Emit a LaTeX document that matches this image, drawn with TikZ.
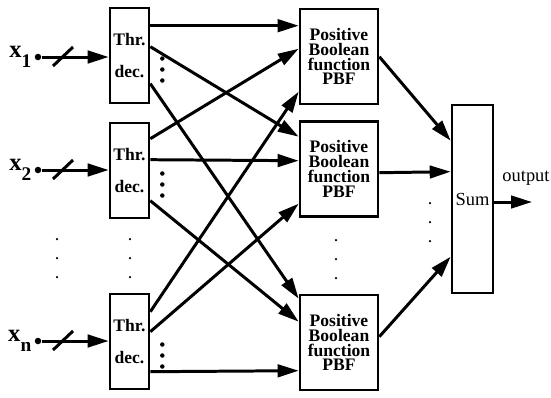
\documentclass[tikz,border=0pt]{standalone}
\usepackage{fontspec}
\setmainfont{Liberation Serif}
\usepackage{tikz}
\usetikzlibrary{arrows.meta, positioning, calc}
\tikzset{
  thrbox/.style={rectangle, draw, line width=1.5pt,
    minimum width=0.78cm, minimum height=1.9cm, inner sep=0pt,
    align=center, font=\fontsize{10}{18}\selectfont\bfseries},
  pbfbox/.style={rectangle, draw, line width=1.5pt,
    minimum width=1.56cm, minimum height=1.9cm, inner sep=0pt,
    align=center, font=\fontsize{10}{8.5}\selectfont\bfseries},
  sumbox/.style={rectangle, draw, line width=1.5pt,
    minimum width=0.82cm, minimum height=3.76cm, inner sep=0pt,
    font=\fontsize{10.5}{12}\selectfont},
  indot/.style={circle, fill, inner sep=0pt, minimum size=0.13cm},
  smalldot/.style={circle, fill, inner sep=0pt, minimum size=0.05cm},
  bigdot/.style={circle, fill, inner sep=0pt, minimum size=0.09cm},
  inlabel/.style={font=\fontsize{14}{14}\selectfont\bfseries, inner sep=1pt},
  arrow/.style={-{Triangle[length=0.42cm,width=0.25cm]}, line width=1.7pt},
  line/.style={line width=1.7pt}
}

\begin{document}
\begin{tikzpicture}[x=0.02cm, y=-0.02cm]
  \useasboundingbox (0,0) rectangle (551,397);

  % threshold decoders
  \node[thrbox] (thr1) at (129.5,55.5) {Thr.\\dec.};
  \node[thrbox] (thr2) at (129.5,170.5) {Thr.\\dec.};
  \node[thrbox] (thr3) at (129.5,341.5) {Thr.\\dec.};

  % positive boolean functions
  \node[pbfbox] (pbf1) at (339,56.5) {Positive\\Boolean\\function\\PBF};
  \node[pbfbox] (pbf2) at (339,169) {Positive\\Boolean\\function\\PBF};
  \node[pbfbox] (pbf3) at (339,342.5) {Positive\\Boolean\\function\\PBF};

  \node[sumbox] (sum) at (472.5,199) {Sum};

  % inputs
  \foreach \i/\y/\s in {1/57/1, 2/170/2, 3/341/n} {
    \node[indot] (in\i) at (38,\y) {};
    \node[inlabel, anchor=east] (lab\i) at ($(in\i.west)+(-1,0)$) {x\raisebox{-0.9ex}{\fontsize{11}{12}\selectfont\s}};
    \draw[arrow] (in\i) -- (in\i -| thr\i.west);
    \draw[line] ($(in\i)+(15,9)$) -- ++(20,-19);
    \foreach \d/\o in {a/3, b/14, c/25}
      \node[bigdot] (dot\i\d) at ($(thr\i.east)+(12,\o)$) {};
  }

  % decoders to PBFs
  \foreach \a/\ya/\b/\yb in {1/19/1/18, 1/40/2/16.5, 1/77/3/5,
                             2/17/1/41, 2/38/2/40.5, 2/79/3/28,
                             3/19/1/84, 3/39/2/83.5, 3/79/3/77}
    \draw[arrow] ($(thr\a.north east)+(0,\ya)$) -- ($(pbf\b.north west)+(0,\yb)$);

  % PBFs to sum
  \draw[arrow] ($(pbf1.north east)+(0,49)$) -- ($(sum.north west)+(0,37)$);
  \draw[arrow] ($(pbf2.north east)+(0,52.5)$) -- ($(sum.north west)+(0,68)$);
  \draw[arrow] ($(pbf3.north east)+(0,43)$) -- ($(sum.north west)+(0,153)$);

  % output
  \coordinate (out) at (532,202);
  \draw[arrow] (sum.east |- out) -- (out);
  \node[font=\fontsize{10.5}{12}\selectfont] (outlabel) at (526,178) {output};

  % vertical dots
  \foreach \k/\y in {1/239, 2/258, 3/277} {
    \node[smalldot] (vin\k) at (57,\y) {};
    \node[smalldot] (vthr\k) at (130,\y) {};
    \node[smalldot] (vpbf\k) at (336,\y+1) {};
    \node[smalldot] (vsum\k) at (430,\y-36) {};
  }
\end{tikzpicture}
\end{document}
